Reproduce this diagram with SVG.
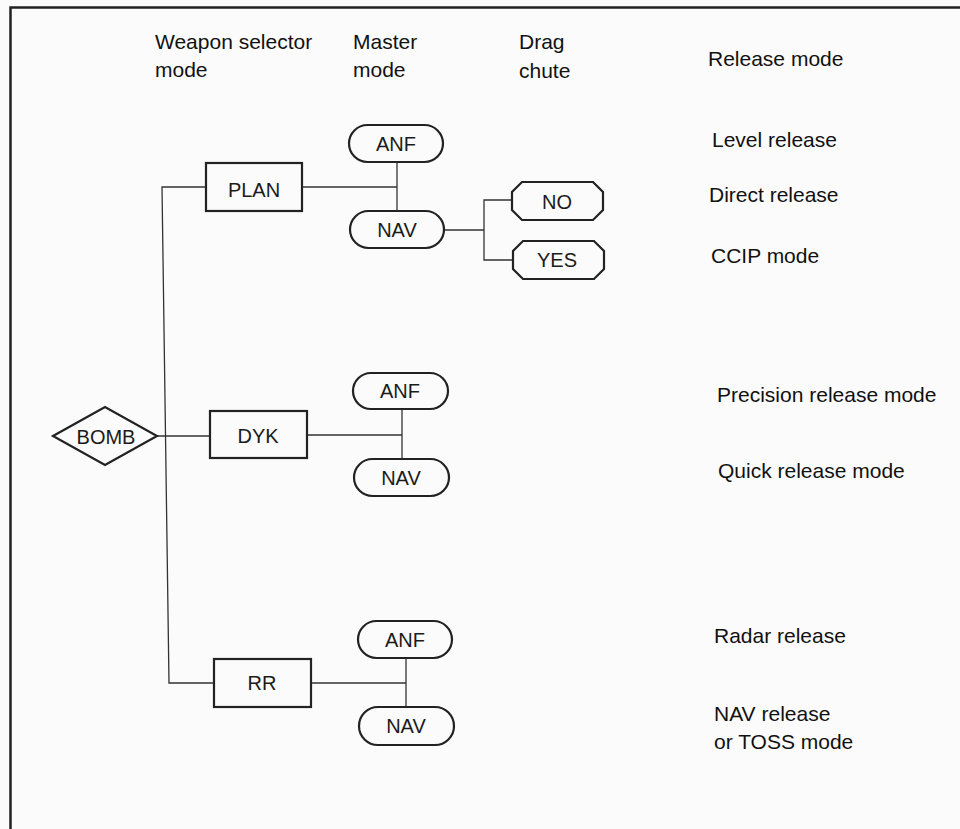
<svg xmlns="http://www.w3.org/2000/svg" width="960" height="829" viewBox="0 0 960 829">
<style>
.hdr{font-family:"Liberation Sans",Arial,sans-serif;font-size:21px;fill:#111}
.lbl{font-family:"Liberation Sans",Arial,sans-serif;font-size:20px;fill:#1a1a1a;text-anchor:middle}
.shape{fill:none;stroke:#222;stroke-width:2.2}
.conn{fill:none;stroke:#333;stroke-width:1.3}
</style>
<rect x="0" y="0" width="960" height="829" fill="#fbfbfb"/>
<rect x="10.5" y="7.5" width="980" height="900" fill="none" stroke="#222" stroke-width="2.5"/>

<g id="headers">
<text class="hdr" x="155" y="49">Weapon selector</text>
<text class="hdr" x="155" y="77">mode</text>
<text class="hdr" x="353" y="49">Master</text>
<text class="hdr" x="353" y="77">mode</text>
<text class="hdr" x="519" y="49">Drag</text>
<text class="hdr" x="519" y="78">chute</text>
<text class="hdr" x="708" y="66">Release mode</text>
</g>

<g id="release-modes">
<text class="hdr" x="712" y="147">Level release</text>
<text class="hdr" x="709" y="202">Direct release</text>
<text class="hdr" x="711" y="263">CCIP mode</text>
<text class="hdr" x="717" y="402">Precision release mode</text>
<text class="hdr" x="718" y="478">Quick release mode</text>
<text class="hdr" x="714" y="643">Radar release</text>
<text class="hdr" x="714" y="721">NAV release</text>
<text class="hdr" x="714" y="749">or TOSS mode</text>
</g>

<g id="connectors">
<polyline class="conn" points="206,187 162,187 169,683 214,683"/>
<line class="conn" x1="157" y1="436" x2="210" y2="436"/>
<line class="conn" x1="302" y1="187" x2="397" y2="187"/>
<line class="conn" x1="397" y1="162" x2="397" y2="211"/>
<line class="conn" x1="444" y1="230" x2="484" y2="230"/>
<polyline class="conn" points="512,200 484,200 484,260 513,260"/>
<line class="conn" x1="307" y1="435" x2="402" y2="435"/>
<line class="conn" x1="402" y1="409" x2="402" y2="459"/>
<line class="conn" x1="311" y1="683" x2="406" y2="683"/>
<line class="conn" x1="406" y1="658" x2="406" y2="707"/>
</g>

<g id="bomb">
<polygon class="shape" points="53,436 105,407 157,436 105,465"/>
<text class="lbl" x="106" y="444">BOMB</text>
</g>

<g id="plan">
<rect class="shape" x="206" y="163" width="96" height="48"/>
<text class="lbl" x="254" y="197">PLAN</text>
</g>
<g id="plan-anf">
<rect class="shape" x="349" y="125" width="94" height="37" rx="18.5"/>
<text class="lbl" x="396" y="151">ANF</text>
</g>
<g id="plan-nav">
<rect class="shape" x="350" y="211" width="94" height="37" rx="18.5"/>
<text class="lbl" x="397" y="237">NAV</text>
</g>
<g id="chute-no">
<polygon class="shape" points="522,182 593,182 603,192 603,210 593,220 522,220 512,210 512,192"/>
<text class="lbl" x="557" y="209">NO</text>
</g>
<g id="chute-yes">
<polygon class="shape" points="523,241 594,241 604,251 604,269 594,279 523,279 513,269 513,251"/>
<text class="lbl" x="557" y="267">YES</text>
</g>

<g id="dyk">
<rect class="shape" x="210" y="411" width="97" height="47"/>
<text class="lbl" x="258" y="443">DYK</text>
</g>
<g id="dyk-anf">
<rect class="shape" x="353" y="373" width="95" height="36" rx="18"/>
<text class="lbl" x="400" y="398">ANF</text>
</g>
<g id="dyk-nav">
<rect class="shape" x="354" y="459" width="95" height="37" rx="18.5"/>
<text class="lbl" x="401" y="485">NAV</text>
</g>

<g id="rr">
<rect class="shape" x="214" y="659" width="97" height="48"/>
<text class="lbl" x="262" y="690">RR</text>
</g>
<g id="rr-anf">
<rect class="shape" x="358" y="621" width="94" height="37" rx="18.5"/>
<text class="lbl" x="405" y="647">ANF</text>
</g>
<g id="rr-nav">
<rect class="shape" x="359" y="707" width="95" height="38" rx="19"/>
<text class="lbl" x="406" y="733">NAV</text>
</g>
</svg>
